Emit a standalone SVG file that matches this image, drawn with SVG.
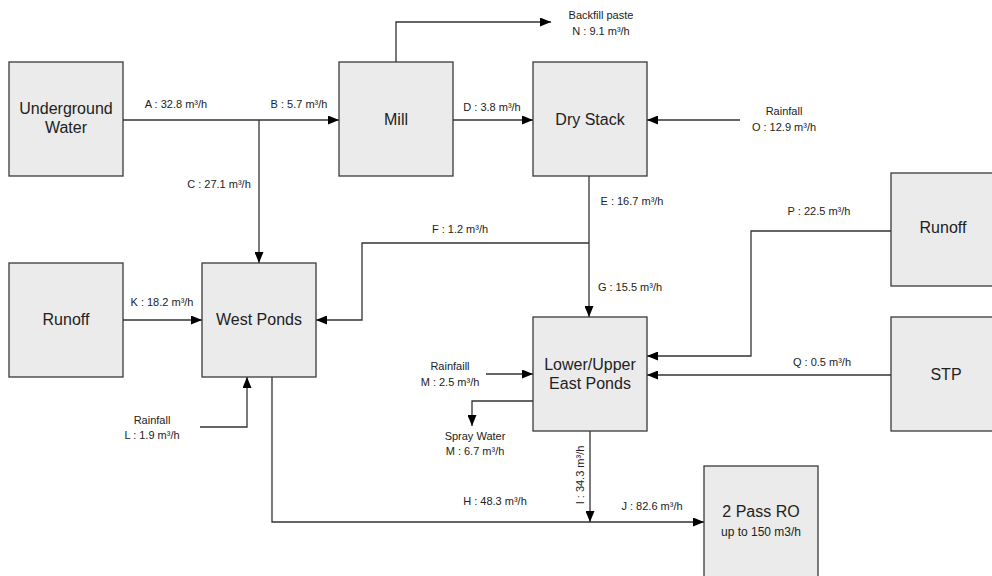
<svg xmlns="http://www.w3.org/2000/svg" width="992" height="576" viewBox="0 0 992 576">
<defs>
<marker id="ar" markerWidth="11" markerHeight="9" refX="11" refY="4.5" orient="auto" markerUnits="userSpaceOnUse">
<path d="M0,0 L11,4.5 L0,9 Z" fill="#000"/>
</marker>
<style>
.box{fill:#ebebeb;stroke:#3a3a3a;stroke-width:1.3}
.nt{font-family:"Liberation Sans",Arial,sans-serif;font-size:16px;fill:#222;text-anchor:middle}
.el{font-family:"Liberation Sans",Arial,sans-serif;font-size:11px;fill:#222;text-anchor:middle}
.ln{fill:none;stroke:#333;stroke-width:1.3}
.ar{marker-end:url(#ar)}
</style>
</defs>
<rect width="992" height="576" fill="#fff"/>
<g id="connectors">
<path class="ln" d="M123,120 H259"/>
<path class="ln ar" d="M259,120 H339"/>
<path class="ln ar" d="M259,120 V263"/>
<path class="ln ar" d="M396,62 V22 H551"/>
<path class="ln ar" d="M453,120 H533"/>
<path class="ln ar" d="M740,120 H647"/>
<path class="ln" d="M589,176 V243"/>
<path class="ln ar" d="M589,243 H362 V320 H316"/>
<path class="ln ar" d="M589,243 V317"/>
<path class="ln ar" d="M123,320 H202"/>
<path class="ln ar" d="M200,427 H247 V377"/>
<path class="ln ar" d="M891,231 H751 V356 H647"/>
<path class="ln ar" d="M891,375 H647"/>
<path class="ln ar" d="M486,374 H533"/>
<path class="ln ar" d="M533,401 H472 V426"/>
<path class="ln ar" d="M272,377 V522 H704"/>
<path class="ln ar" d="M590,431 V522"/>
</g>
<g id="labels">
<text class="el" x="176" y="108">A : 32.8 m³/h</text>
<text class="el" x="299" y="108">B : 5.7 m³/h</text>
<text class="el" x="219" y="188">C : 27.1 m³/h</text>
<text class="el" x="601" y="19">Backfill paste</text>
<text class="el" x="601" y="35">N : 9.1 m³/h</text>
<text class="el" x="492" y="111">D : 3.8 m³/h</text>
<text class="el" x="784" y="115">Rainfall</text>
<text class="el" x="784" y="131">O : 12.9 m³/h</text>
<text class="el" x="632" y="205">E : 16.7 m³/h</text>
<text class="el" x="460" y="233">F : 1.2 m³/h</text>
<text class="el" x="630" y="291">G : 15.5 m³/h</text>
<text class="el" x="162" y="306">K : 18.2 m³/h</text>
<text class="el" x="819" y="215">P : 22.5 m³/h</text>
<text class="el" x="822" y="366">Q : 0.5  m³/h</text>
<text class="el" x="450" y="370">Rainfaill</text>
<text class="el" x="450" y="386">M : 2.5 m³/h</text>
<text class="el" x="475" y="440">Spray Water</text>
<text class="el" x="475" y="455">M : 6.7 m³/h</text>
<text class="el" x="152" y="424">Rainfall</text>
<text class="el" x="152" y="439">L : 1.9 m³/h</text>
<text class="el" x="495" y="505">H : 48.3 m³/h</text>
<text class="el" x="652" y="510">J : 82.6 m³/h</text>
<text class="el" transform="translate(584,475) rotate(-90)">I : 34.3 m³/h</text>
</g>
<g id="underground-water"><rect class="box" x="9" y="62" width="114" height="114"/><text class="nt" x="66" y="114">Underground</text><text class="nt" x="66" y="133">Water</text></g>
<g id="mill"><rect class="box" x="339" y="62" width="114" height="114"/><text class="nt" x="396" y="125">Mill</text></g>
<g id="dry-stack"><rect class="box" x="533" y="62" width="114" height="114"/><text class="nt" x="590" y="125">Dry Stack</text></g>
<g id="runoff-west"><rect class="box" x="9" y="263" width="114" height="114"/><text class="nt" x="66" y="325">Runoff</text></g>
<g id="west-ponds"><rect class="box" x="202" y="263" width="114" height="114"/><text class="nt" x="259" y="325">West Ponds</text></g>
<g id="runoff-east"><rect class="box" x="891" y="173" width="114" height="113"/><text class="nt" x="943" y="233">Runoff</text></g>
<g id="stp"><rect class="box" x="891" y="317" width="114" height="114"/><text class="nt" x="946" y="380">STP</text></g>
<g id="east-ponds"><rect class="box" x="533" y="317" width="114" height="114"/><text class="nt" x="590" y="370">Lower/Upper</text><text class="nt" x="590" y="389">East Ponds</text></g>
<g id="ro"><rect class="box" x="704" y="466" width="114" height="114"/><text class="nt" x="761" y="517">2 Pass RO</text><text class="el" style="font-size:12px" x="761" y="536">up to 150 m3/h</text></g>
</svg>
